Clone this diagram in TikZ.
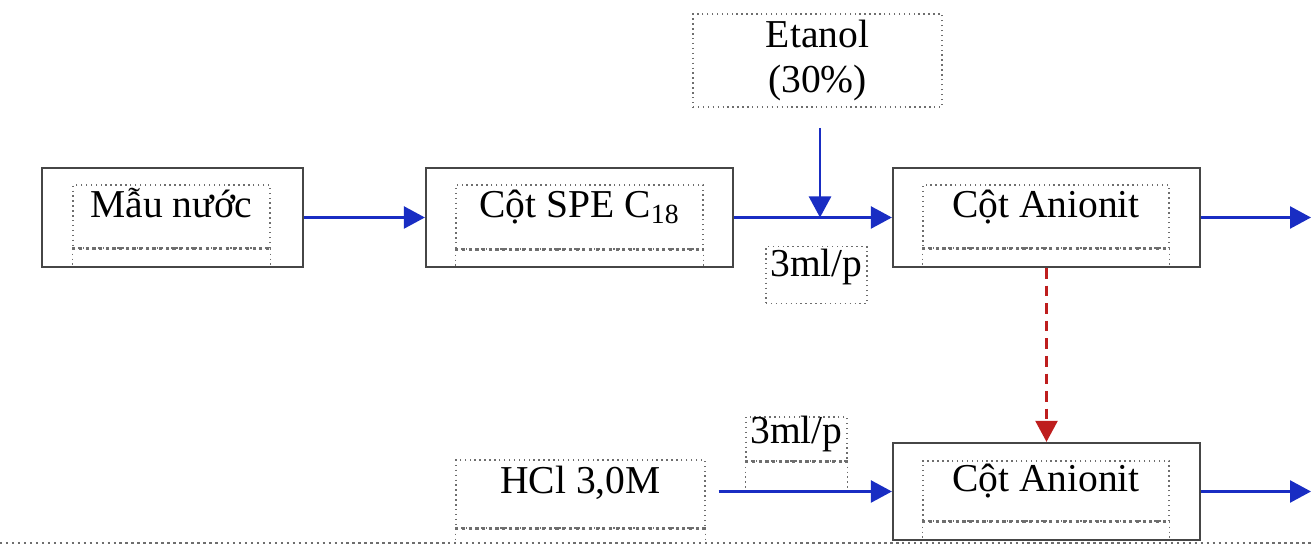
\documentclass[tikz,border=0pt]{standalone}
\usepackage{fontspec}
\setmainfont{Liberation Serif}
\definecolor{dongxanh}{RGB}{25, 45, 195}
\definecolor{dongdo}{RGB}{190, 30, 30}
\definecolor{vienxam}{RGB}{70, 70, 70}
\definecolor{chamxam}{RGB}{110, 110, 110}
\usetikzlibrary{positioning, arrows.meta}

\begin{document}
\begin{tikzpicture}[x=0.02cm, y=-0.02cm,
    every node/.style={font=\fontsize{22.5}{25.6}\selectfont},
    khung/.style={draw=vienxam, line width=1.3pt, minimum height=1.98cm, inner sep=0pt},
    nhan/.style={draw=chamxam, dotted, line width=0.8pt, inner sep=0pt, align=center,
      text height=0.55em, text depth=0.48em},
    day/.style={chamxam, line width=1.8pt, dotted},
    chan/.style={chamxam, line width=0.8pt, dotted},
    luong/.style={draw=dongxanh, line width=1.4pt, -{Triangle[length=0.42cm, width=0.44cm]}},
    luongdo/.style={draw=dongdo, line width=1.4pt, dash pattern=on 6pt off 4pt,
      -{Triangle[length=0.42cm, width=0.44cm]}}]
        \useasboundingbox (0,0) rectangle (1311,546);
        % Hang tren: mau nuoc -> cot SPE -> cot anionit
        \node[khung, minimum width=5.22cm] (mau) at (172.5,217.5) {};
        \node[nhan, minimum width=3.94cm, minimum height=1.26cm] (maut) at (171.5,216.5) {Mẫu nước};
        \node[khung, minimum width=6.14cm] (spe) at (579.5,217.5) {};
        \node[nhan, minimum width=4.94cm, minimum height=1.28cm] (spet) at (579.5,217) {Cột SPE C\textsubscript{18}};
        \node[khung, minimum width=6.14cm] (an1) at (1046.5,217.5) {};
        \node[nhan, minimum width=4.92cm, minimum height=1.26cm, text height=0.6em, text depth=0.45em] (an1t) at (1046,216.5) {Cột Anionit};
        % Dung moi rua giai
        \node[nhan, minimum width=4.98cm, minimum height=1.86cm, text height=, text depth=] (eta) at (817.5,60.5) {Etanol\\(30\%)};
        \node[nhan, minimum width=2.02cm, minimum height=1.14cm, text height=0.6em, text depth=0.42em] (toc1) at (816.5,275) {3ml/p};
        % Hang duoi
        \node[khung, minimum width=6.14cm, minimum height=1.94cm] (an2) at (1046.5,491.5) {};
        \node[nhan, minimum width=4.92cm, minimum height=1.2cm] (an2t) at (1046,491) {Cột Anionit};
        \node[nhan, minimum width=4.98cm, minimum height=1.36cm, text height=0.5em, text depth=0.6em] (hcl) at (580.5,494) {HCl 3,0M};
        \node[nhan, minimum width=2.02cm, minimum height=0.88cm, text height=0.8em, text depth=0.25em] (toc2) at (796.5,439) {3ml/p};
        % Vach keo dai cua cac khung cham
        \foreach \n in {mau, spe, an1, an2} {
          \draw[day] (\n t.south west) -- (\n t.south east);
          \draw[chan] (\n t.south west) -- (\n t.south west |- \n.south);
          \draw[chan] (\n t.south east) -- (\n t.south east |- \n.south);
        }
        \draw[day] (hcl.south west) -- (hcl.south east);
        \draw[chan] (hcl.south west) -- ++(0,10) (hcl.south east) -- ++(0,10);
        \draw[day] (toc2.south west) -- (toc2.south east);
        \draw[chan] (toc2.south west) -- ++(0,33) (toc2.south east) -- ++(0,33);
        % Cac mui ten
        \coordinate (vao) at (820,128);
        \coordinate (ra1) at (1311,217.5);
        \coordinate (ra2) at (1311,491.5);
        \draw[luong] (mau) -- (spe);
        \draw[luong] (spe) -- (an1);
        \draw[luong] (vao) -- (vao |- an1.west);
        \draw[luong] (an1) -- (ra1);
        \draw[luongdo] (an1) -- (an2);
        \draw[luong, shorten <=0.26cm] (hcl.east |- an2) -- (an2);
        \draw[luong] (an2) -- (ra2);
        % Duong cham day duoi
        \draw[chamxam, line width=1.4pt, dotted] (0,543) -- (1311,543);
      \end{tikzpicture}
\end{document}
